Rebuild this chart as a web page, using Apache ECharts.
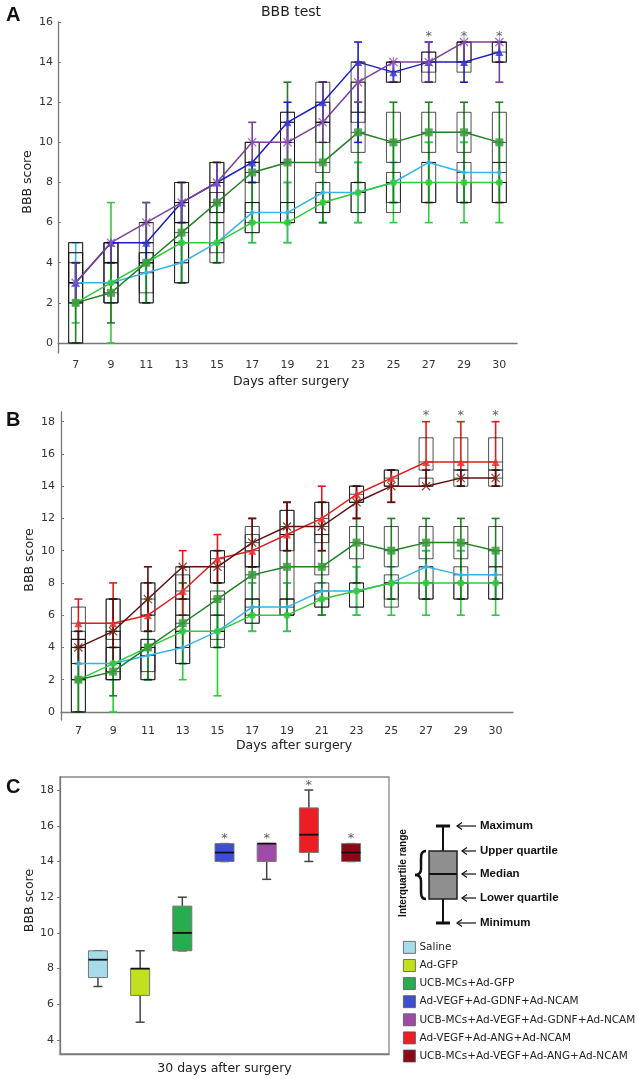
<!DOCTYPE html>
<html><head><meta charset="utf-8">
<script src="https://cdn.jsdelivr.net/npm/echarts@6/dist/echarts.min.js"></script>
<style>html,body{margin:0;padding:0;background:#fff}#c{width:638px;height:1079px}</style>
</head><body><div id="c"></div><script>
const days = ['7','9','11','13','15','17','19','21','23','25','27','29','30'];
const yTicksAB = [0,2,4,6,8,10,12,14,16,18];
const yTicksC = [4,6,8,10,12,14,16,18];

// Saline (panels A and B)
const salineMean = [3,3,3.5,4,5,6.5,6.5,7.5,7.5,8,9,8.5,8.5];
const salineMin  = [2,2,2,3,4,5,5,6,6,7,7,7,7];
const salineMax  = [5,4,5,5,6,8,8,8,9,9,10,10,10];
const salineQ1   = [2,2,2,3,4.5,5.5,6,6.5,6.5,7,7,7,7];
const salineQ3   = [4,4,4.5,5,6,7,7,8,8,8.5,9,9,9];
// Ad-GFP
const gfpMean = [2,3,4,5,5,6,6,7,7.5,8,8,8,8];
const gfpMinA = [1,0,2,3,4,5,5,6,6,6,6,6,6];
const gfpMinB = [0,0,2,2,1,5,5,6,6,6,6,6,6];
const gfpMax  = [4,7,7,8,7,8,8,9,9,10,10,10,10];
const gfpQ1   = [0,2,2,3,4,5.5,6,6.5,6.5,6.5,7,7,7];
const gfpQ3   = [4.5,4,4,6,5,7,7,7.5,8,8,8,8,8];
// UCB-MCs+Ad-GFP
const ucbMean = [2,2.5,4,5.5,7,8.5,9,9,10.5,10,10.5,10.5,10];
const ucbMin  = [0,1,2,3,4,6,6,6,8,7,7,7,7];
const ucbMax  = [4,5,6,8,8,9,13,13,12,12,12,12,12];
const ucbQ1   = [0,2,2.5,4,6,7,7,8.5,9.5,9,9.5,9.5,9];
const ucbQ3   = [4.5,5,4.5,7,7.5,9,11,11,11.5,11.5,11.5,11.5,11.5];
// Ad-VEGF+Ad-GDNF+Ad-NCAM (panel A)
const gdnfMean = [3,5,5,7,8,9,11,12,14,13.5,14,14,14.5];
const gdnfMin  = [2,4,4,6,7,8,10,11,10,13,13,13,14];
const gdnfMax  = [4,5,5,7,9,9,12,13,15,14,15,15,15];
const gdnfQ1   = [3,4,4,6,6.5,8,9,11,11,13,13,13.5,14];
const gdnfQ3   = [5,5,5,8,9,10,11.5,13,14,14,14.5,15,15];
// UCB-MCs+Ad-VEGF+Ad-GDNF+Ad-NCAM (panel A)
const ucbGdnfMean = [3,5,6,7,8,10,10,11,13,14,14,15,15];
const ucbGdnfMin  = [2,4,5,6,7,9,9,10,12,13,13,14,13];
const ucbGdnfMax  = [4,5,7,8,9,11,11,13,14,14,15,15,15];
const ucbGdnfQ1   = [3,4,5,6,6.5,9,9,10,11.5,13,13.5,14,14];
const ucbGdnfQ3   = [5,5,6,8,9,10,11.5,12,13,14,14.5,15,15];
// Ad-VEGF+Ad-ANG+Ad-NCAM (panel B)
const angMean = [5.5,5.5,6,7.5,9.5,10,11,12,13.5,14.5,15.5,15.5,15.5];
const angMin  = [4,4,5,6,8,9,10,10,12,13,14,14,14];
const angMax  = [7,8,8,10,11,12,13,14,14,15,18,18,18];
const angQ1   = [4.5,4.5,5,6,8,9,10,11,13,14,15,15,15];
const angQ3   = [6.5,7,8,8.5,10,11.5,12.5,13,14,15,17,17,17];
// UCB-MCs+Ad-VEGF+Ad-ANG+Ad-NCAM (panel B)
const ucbAngMean = [4,5,7,9,9,10.5,11.5,11.5,13,14,14,14.5,14.5];
const ucbAngMin  = [3,3,5,7,8,9,10,10,12,13,14,14,14];
const ucbAngMax  = [5,7,9,9,10,12,13,13,14,15,15,15,15];
const ucbAngQ1   = [3,4,6,7,8,9,11,10.5,13,14,14,14,14];
const ucbAngQ3   = [5,7,8,9,10,11,12.5,13,14,15,14.5,15,15];
// significance stars
const starDays = ['27','29','30'];
const starA = [15.25,15.25,15.25];
const starB = [18.35,18.35,18.35];

// Panel C: day 30
const groupsC = ['Saline','Ad-GFP','UCB-MCs+Ad-GFP','Ad-VEGF+Ad-GDNF+Ad-NCAM','UCB-MCs+Ad-VEGF+Ad-GDNF+Ad-NCAM','Ad-VEGF+Ad-ANG+Ad-NCAM','UCB-MCs+Ad-VEGF+Ad-ANG+Ad-NCAM'];
const colorsC = ['#a6dbe9','#c3e01f','#27ad4f','#3d4fd0','#a04aa8','#ec1d25','#880a18'];
const cMin = [7,5,9,14,13,14,14];
const cQ1  = [7.5,6.5,9,14,14,14.5,14];
const cMed = [8.5,8,10,14.5,15,15.5,14.5];
const cQ3  = [9,8,11.5,15,15,17,15];
const cMax = [9,9,12,15,15,18,15];
const cStar = [null,null,null,15.3,15.3,18.25,15.3];

const FONT = 'DejaVu Sans';
const xPath = 'path://M0,1L1,0L5,4L9,0L10,1L6,5L10,9L9,10L5,6L1,10L0,9L4,5Z';
const astPath = 'path://M0,1L1,0L5,4L9,0L10,1L6,5L10,9L9,10L5,6L1,10L0,9L4,5Z M4.4,0L5.6,0L5.6,10L4.4,10Z';

function errSeries(g, color, min, max){
  return {type:'custom', xAxisIndex:g, yAxisIndex:g, silent:true, z:2,
    data: days.map((d,i)=>[i,min[i],max[i]]),
    renderItem:(p,api)=>{
      const lo = api.coord([api.value(0),api.value(1)]);
      const hi = api.coord([api.value(0),api.value(2)]);
      const x = lo[0], w = 4;
      const st = {stroke:color, lineWidth:1.6, fill:null};
      return {type:'group', children:[
        {type:'line', shape:{x1:x,y1:lo[1],x2:x,y2:hi[1]}, style:st},
        {type:'line', shape:{x1:x-w,y1:lo[1],x2:x+w,y2:lo[1]}, style:st},
        {type:'line', shape:{x1:x-w,y1:hi[1],x2:x+w,y2:hi[1]}, style:st}
      ]};
    }};
}
function boxSeries(g, q1, q3, mid){
  return {type:'custom', xAxisIndex:g, yAxisIndex:g, silent:true, z:3,
    data: days.map((d,i)=>[i,q1[i],q3[i],mid[i]]),
    renderItem:(p,api)=>{
      const lo = api.coord([api.value(0),api.value(1)]);
      const hi = api.coord([api.value(0),api.value(2)]);
      const md = api.coord([api.value(0),api.value(3)]);
      const x = lo[0], w = 7;
      const st = {stroke:'rgba(20,20,20,0.75)', lineWidth:1, fill:null};
      return {type:'group', children:[
        {type:'rect', shape:{x:x-w,y:hi[1],width:2*w,height:lo[1]-hi[1]}, style:st},
        {type:'line', shape:{x1:x-w,y1:md[1],x2:x+w,y2:md[1]}, style:st}
      ]};
    }};
}
function lineSeries(g, name, color, mcolor, symbol, size, mean){
  return {type:'line', name:name, xAxisIndex:g, yAxisIndex:g, z:4, data:mean,
    symbol:symbol, symbolSize:size, showAllSymbol:true,
    lineStyle:{color:color, width:1.5}, itemStyle:{color:mcolor, opacity:0.85}};
}
function starSeries(g, vals){
  return {type:'scatter', xAxisIndex:g, yAxisIndex:g, z:5, silent:true,
    data: starDays.map((d,i)=>[d, vals[i]]), symbolSize:1, itemStyle:{color:'rgba(0,0,0,0)'},
    label:{show:true, formatter:'*', position:'inside', color:'#333', fontSize:13, fontFamily:FONT}};
}

const groupsA = [
  ['A Saline','#37b5e5','#37b5e5','diamond',6,salineMean,salineMin,salineMax,salineQ1,salineQ3],
  ['A Ad-GFP','#2fcb3a','#2fcb3a','circle',7,gfpMean,gfpMinA,gfpMax,gfpQ1,gfpQ3],
  ['A UCB-MCs+Ad-GFP','#1f7f22','#3c9b3c','rect',8,ucbMean,ucbMin,ucbMax,ucbQ1,ucbQ3],
  ['A Ad-VEGF+Ad-GDNF+Ad-NCAM','#1c1cc4','#3a3ad8','triangle',8,gdnfMean,gdnfMin,gdnfMax,gdnfQ1,gdnfQ3],
  ['A UCB-MCs+Ad-VEGF+Ad-GDNF+Ad-NCAM','#7a3f9d','#8f55b5',astPath,9,ucbGdnfMean,ucbGdnfMin,ucbGdnfMax,ucbGdnfQ1,ucbGdnfQ3]
];
const groupsB = [
  ['B Saline','#37b5e5','#37b5e5','diamond',6,salineMean,salineMin,salineMax,salineQ1,salineQ3],
  ['B Ad-GFP','#2fcb3a','#2fcb3a','circle',7,gfpMean,gfpMinB,gfpMax,gfpQ1,gfpQ3],
  ['B UCB-MCs+Ad-GFP','#1f7f22','#3c9b3c','rect',8,ucbMean,ucbMin,ucbMax,ucbQ1,ucbQ3],
  ['B Ad-VEGF+Ad-ANG+Ad-NCAM','#e51b1b','#ee3030','triangle',8,angMean,angMin,angMax,angQ1,angQ3],
  ['B UCB-MCs+Ad-VEGF+Ad-ANG+Ad-NCAM','#5e1010','#7a2a1a',xPath,9,ucbAngMean,ucbAngMin,ucbAngMax,ucbAngQ1,ucbAngQ3]
];

const series = [];
[[0,groupsA],[1,groupsB]].forEach(([g,groups])=>{
  groups.forEach(a=>series.push(errSeries(g,a[1],a[6],a[7])));
  groups.forEach(a=>series.push(boxSeries(g,a[8],a[9],a[5])));
  groups.forEach(a=>series.push(lineSeries(g,a[0],a[1],a[2],a[3],a[4],a[5])));
});
series.push(starSeries(0,starA));
series.push(starSeries(1,starB));

groupsC.forEach((name,k)=>{
  series.push({type:'custom', name:name, xAxisIndex:2, yAxisIndex:2, z:3,
    itemStyle:{color:colorsC[k]},
    data:[[k+1,cMin[k],cQ1[k],cMed[k],cQ3[k],cMax[k]]],
    renderItem:(p,api)=>{
      const x = api.value(0);
      const pMin = api.coord([x,api.value(1)]), pQ1 = api.coord([x,api.value(2)]);
      const pMed = api.coord([x,api.value(3)]), pQ3 = api.coord([x,api.value(4)]);
      const pMax = api.coord([x,api.value(5)]);
      const cx = pMin[0], w = 9.5, cw = 4.5;
      const wst = {stroke:'#444', lineWidth:1.5, fill:null};
      return {type:'group', children:[
        {type:'line', shape:{x1:cx,y1:pMin[1],x2:cx,y2:pQ1[1]}, style:wst},
        {type:'line', shape:{x1:cx,y1:pMax[1],x2:cx,y2:pQ3[1]}, style:wst},
        {type:'line', shape:{x1:cx-cw,y1:pMin[1],x2:cx+cw,y2:pMin[1]}, style:wst},
        {type:'line', shape:{x1:cx-cw,y1:pMax[1],x2:cx+cw,y2:pMax[1]}, style:wst},
        {type:'rect', shape:{x:cx-w,y:pQ3[1],width:2*w,height:pQ1[1]-pQ3[1]}, style:{fill:colorsC[k], stroke:'#777', lineWidth:1}},
        {type:'line', shape:{x1:cx-w,y1:pMed[1],x2:cx+w,y2:pMed[1]}, style:{stroke:'#111', lineWidth:1.8}}
      ]};
    }});
});
series.push({type:'scatter', xAxisIndex:2, yAxisIndex:2, z:5, silent:true,
  data: cStar.map((v,k)=>v===null?null:[k+1,v]).filter(v=>v), symbolSize:1, itemStyle:{color:'rgba(0,0,0,0)'},
  label:{show:true, formatter:'*', position:'inside', color:'#333', fontSize:13, fontFamily:FONT}});

const axLine = {lineStyle:{color:'#777', width:1.3}};
const axLab = {color:'#333', fontSize:11, fontFamily:FONT};
const nameStyle = {color:'#222', fontSize:12.5, fontFamily:FONT};

function catX(g, gap, margin, pad){
  return {type:'category', gridIndex:g, data:days, axisLine:axLine,
    axisTick:{alignWithLabel:true, inside:true, length:3, lineStyle:{color:'#777'}},
    axisLabel:Object.assign({margin:margin}, axLab), nameMoveOverlap:false,
    name:'Days after surgery', nameLocation:'middle', nameGap:gap, nameTextStyle:Object.assign({padding:[0,0,0,pad]}, nameStyle)};
}
function valY(g, min, max, ticks, margin, gap, pad, inside){
  return {type:'value', gridIndex:g, min:min, max:max, splitLine:{show:false},
    axisLine:Object.assign({show:true}, axLine),
    axisTick:{show:true, inside:inside, length:3, lineStyle:{color:'#777'}, customValues:ticks},
    axisLabel:Object.assign({margin:margin, customValues:ticks}, axLab), nameMoveOverlap:false,
    name:'BBB score', nameLocation:'middle', nameGap:gap, nameTextStyle:Object.assign({padding:[0,0,0,pad]}, nameStyle)};
}

function arrow(x1, x2, y){
  return {type:'group', children:[
    {type:'line', shape:{x1:x1,y1:y,x2:x2,y2:y}, style:{stroke:'#111', lineWidth:1.2}},
    {type:'polyline', shape:{points:[[x1+5,y-3.5],[x1,y],[x1+5,y+3.5]]}, style:{stroke:'#111', lineWidth:1.2, fill:null}}
  ]};
}
const keyTxt = (t,y)=>({type:'text', x:480, y:y, style:{text:t, font:'bold 11.5px "Liberation Sans"', fill:'#111', textVerticalAlign:'middle'}});
const braceSt = {stroke:'#111', lineWidth:2.5, fill:null};

const option = {
  animation:false,
  backgroundColor:'#fff',
  title:[
    {text:'A', left:6, top:5, padding:0, textStyle:{fontSize:20, fontWeight:'bold', fontFamily:'Liberation Sans', color:'#111'}},
    {text:'BBB test', left:291, top:5, textAlign:'center', padding:0, textStyle:{fontSize:14, fontWeight:'normal', fontFamily:FONT, color:'#222'}},
    {text:'B', left:6, top:410, padding:0, textStyle:{fontSize:20, fontWeight:'bold', fontFamily:'Liberation Sans', color:'#111'}},
    {text:'C', left:6, top:777, padding:0, textStyle:{fontSize:20, fontWeight:'bold', fontFamily:'Liberation Sans', color:'#111'}}
  ],
  legend:{data:groupsC, orient:'vertical', left:398, top:936, itemWidth:12, itemHeight:12, itemGap:5.3,
    icon:'rect', selectedMode:false, itemStyle:{borderColor:'#555', borderWidth:0.8},
    textStyle:{fontSize:10.5, fontFamily:FONT, color:'#222', padding:[0,0,0,-1]}},
  grid:[
    {left:58, top:22, width:459, height:331},
    {left:61, top:412, width:452, height:308},
    {left:60, top:777, width:329, height:277, show:true, borderColor:'#888', borderWidth:1.3}
  ],
  xAxis:[
    catX(0, 22, 7, 7),
    catX(1, 19, 6, 14),
    {type:'value', gridIndex:2, min:0.1, max:7.9, axisLabel:{show:false}, axisTick:{show:false}, splitLine:{show:false},
      axisLine:{show:true, lineStyle:{color:'#777', width:1.3}}, nameMoveOverlap:false,
      name:'30 days after surgery', nameLocation:'middle', nameGap:8, nameTextStyle:nameStyle}
  ],
  yAxis:[
    valY(0, -0.5, 16, yTicksAB.filter(v=>v<=16), 5, 24, 11, true),
    valY(1, -0.5, 18.6, yTicksAB, 6, 25, 12, true),
    valY(2, 3.22, 18.73, yTicksC, 6, 24, 30, false)
  ],
  graphic:[
    {type:'line', shape:{x1:443,y1:826,x2:443,y2:923}, style:{stroke:'#111', lineWidth:2}},
    {type:'line', shape:{x1:436,y1:826,x2:450,y2:826}, style:{stroke:'#111', lineWidth:3}},
    {type:'line', shape:{x1:436,y1:923,x2:450,y2:923}, style:{stroke:'#111', lineWidth:3}},
    {type:'rect', shape:{x:429,y:851,width:28,height:48}, style:{fill:'#8f8f8f', stroke:'#222', lineWidth:1.5}},
    {type:'line', shape:{x1:429,y1:874,x2:457,y2:874}, style:{stroke:'#111', lineWidth:2}},
    {type:'bezierCurve', shape:{x1:426,y1:851,cpx1:421,cpy1:851,cpx2:421,cpy2:855,x2:421,y2:861}, style:braceSt},
    {type:'line', shape:{x1:421,y1:861,x2:421,y2:869}, style:braceSt},
    {type:'bezierCurve', shape:{x1:421,y1:869,cpx1:421,cpy1:873,cpx2:419,cpy2:875,x2:415,y2:875}, style:braceSt},
    {type:'bezierCurve', shape:{x1:415,y1:875,cpx1:419,cpy1:875,cpx2:421,cpy2:877,x2:421,y2:881}, style:braceSt},
    {type:'line', shape:{x1:421,y1:881,x2:421,y2:889}, style:braceSt},
    {type:'bezierCurve', shape:{x1:421,y1:889,cpx1:421,cpy1:895,cpx2:421,cpy2:899,x2:426,y2:899}, style:braceSt},
    {type:'text', x:403, y:873, rotation:Math.PI/2, style:{text:'Interquartile range', font:'bold 10px "Liberation Sans"', fill:'#111', textAlign:'center', textVerticalAlign:'middle'}},
    arrow(457,476,826), arrow(462,476,851), arrow(462,476,874), arrow(462,476,898), arrow(457,476,923),
    keyTxt('Maximum',826), keyTxt('Upper quartile',851), keyTxt('Median',874), keyTxt('Lower quartile',898), keyTxt('Minimum',923)
  ],
  series:series
};
const chart = echarts.init(document.getElementById('c'));
chart.setOption(option);
</script></body></html>
